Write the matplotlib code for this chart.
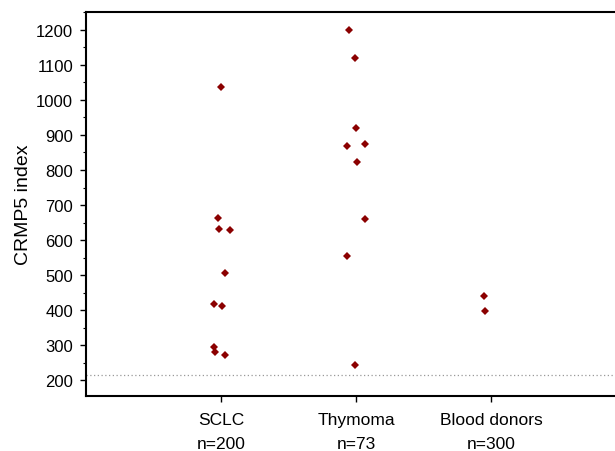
import matplotlib
matplotlib.use("Agg")
import matplotlib.pyplot as plt
import numpy as np
from matplotlib.ticker import MultipleLocator

plt.rcParams['font.family'] = ['Liberation Sans', 'DejaVu Sans']

categories = ["SCLC\nn=200", "Thymoma\nn=73", "Blood donors\nn=300"]

sclc_values = [1037, 662, 631, 630, 507, 417, 412, 296, 280, 271]
sclc_jitter = [0.0, -0.022, -0.015, 0.067, 0.03, -0.052, 0.01, -0.05, -0.047, 0.03]

thymoma_values = [1200, 1119, 919, 868, 875, 822, 661, 556, 243]
thymoma_jitter = [-0.052, -0.01, 0.0, -0.07, 0.067, 0.01, 0.067, -0.067, -0.007]

donor_values = [440, 397]
donor_jitter = [-0.054, -0.044]

cutoff = 215

fig = plt.figure(figsize=(6.15, 4.52), dpi=100)
ax = fig.add_axes([86/615, 1-397/452, 1-86/615 + 0.02, (397-13)/452])

groups = [(sclc_values, sclc_jitter), (thymoma_values, thymoma_jitter), (donor_values, donor_jitter)]
for i, (vals, jit) in enumerate(groups, start=1):
    xs = np.array(jit) + i
    ax.plot(xs, vals, linestyle='none', marker='D', markersize=4.2,
            color='#8B0000', markeredgewidth=0)

ax.axhline(cutoff, color='#999999', linestyle=(0, (1, 2)), linewidth=0.9, zorder=0)

ax.set_xlim(0, 4.01)
ax.set_ylim(155, 1251)
ax.set_xticks([1, 2, 3])
ax.set_xticklabels(categories, fontsize=12.5, linespacing=1.75)
ax.yaxis.set_minor_locator(MultipleLocator(50))
ax.set_yticks(range(200, 1201, 100))
ax.tick_params(axis='y', labelsize=12, length=4.3, width=1, direction='out', pad=5)
ax.tick_params(axis='y', which='minor', length=2.5, width=0.8)
ax.tick_params(axis='x', length=4.3, width=1, direction='out', pad=7)
ax.set_ylabel("CRMP5 index", fontsize=14, labelpad=3)

for s in ['left', 'top', 'bottom', 'right']:
    ax.spines[s].set_linewidth(1.5)
    ax.spines[s].set_color('black')

fig.savefig("out.png", dpi=100)
